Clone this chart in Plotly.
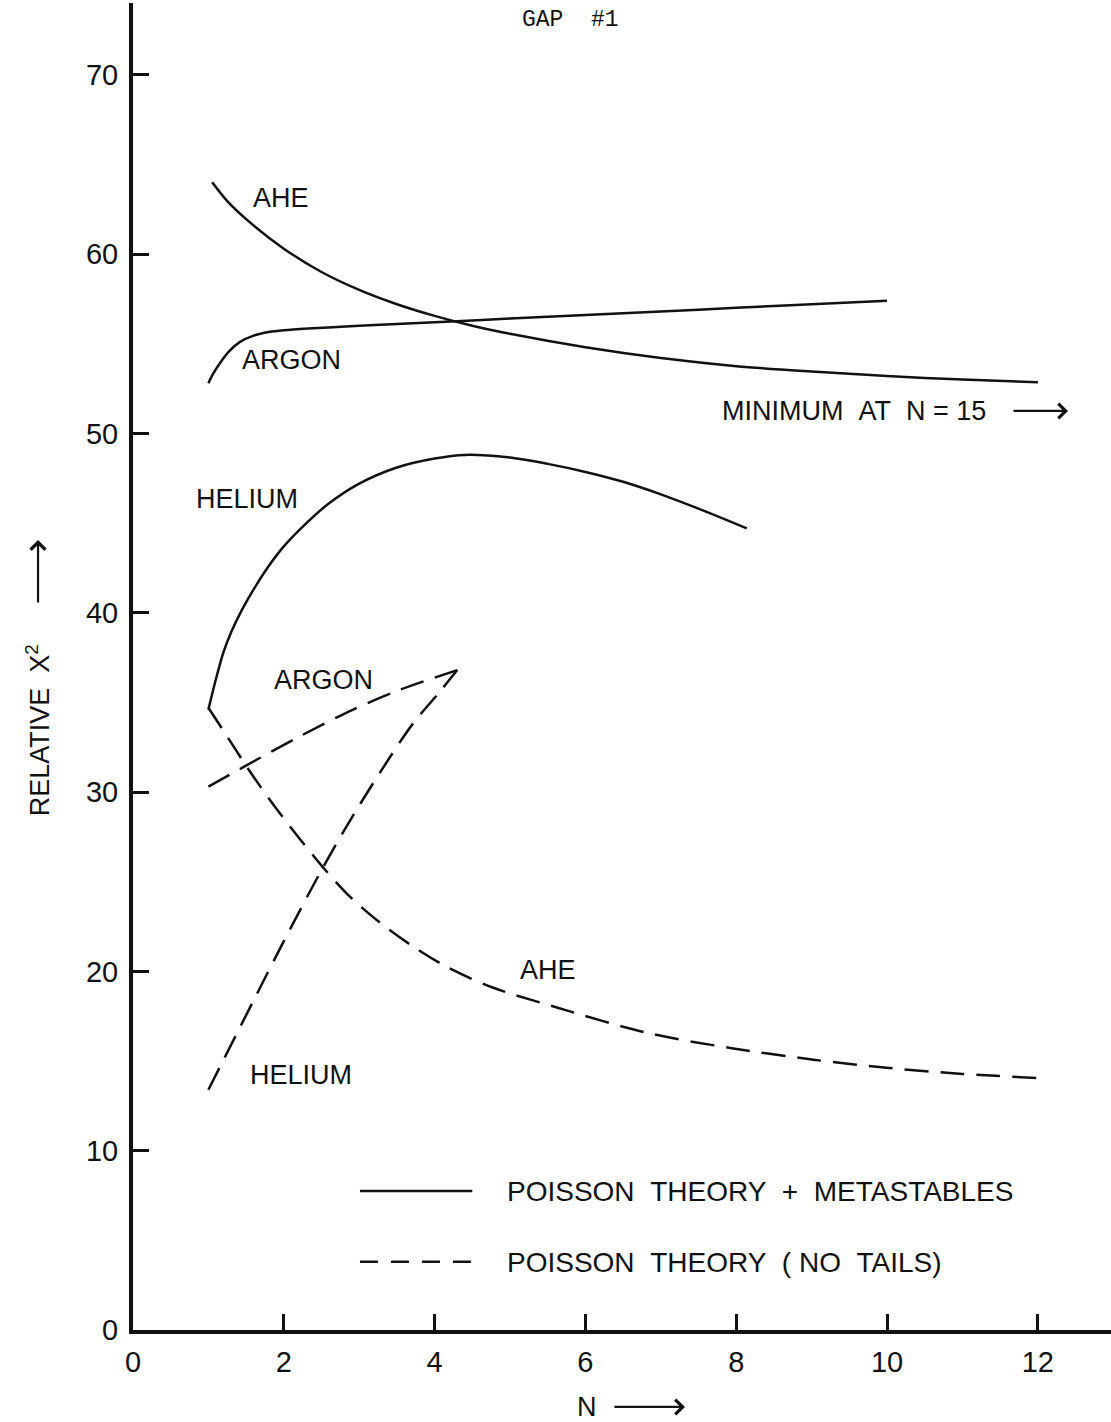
import plotly.graph_objects as go

# Poisson theory + metastables (solid curves)
ahe_solid_n = [1.05, 1.25, 1.5, 2, 2.5, 3, 3.5, 4, 4.5, 5, 6, 7, 8, 9, 10, 11, 12]
ahe_solid = [64.0, 62.95, 61.95, 60.3, 59.0, 58.0, 57.2, 56.55, 56.0, 55.55, 54.8, 54.2, 53.75, 53.45, 53.2, 53.0, 52.85]

argon_solid_n = [1.0, 1.06, 1.15, 1.28, 1.42, 1.6, 1.8, 2.0, 3, 4, 5, 6, 7, 8, 9, 10]
argon_solid = [52.8, 53.3, 53.9, 54.6, 55.1, 55.45, 55.65, 55.75, 56.0, 56.2, 56.4, 56.6, 56.8, 57.0, 57.2, 57.4]

helium_solid_n = [1.0, 1.1, 1.2, 1.3, 1.45, 1.6, 1.8, 2.0, 2.3, 2.6, 3.0, 3.5, 4.0, 4.4, 5.0, 5.5, 6.0, 6.5, 7.0, 7.5, 8.14]
helium_solid = [34.6, 36.3, 37.8, 38.9, 40.2, 41.3, 42.6, 43.7, 45.0, 46.1, 47.2, 48.1, 48.6, 48.8, 48.65, 48.3, 47.85, 47.3, 46.6, 45.8, 44.7]

# Poisson theory, no tails (dashed curves)
ahe_dash_n = [1.0, 1.31, 1.51, 1.86, 2.21, 2.52, 2.88, 3.28, 3.71, 4.16, 4.77, 5.53, 6.83, 7.92, 9.05, 10.03, 11.0, 12.0]
ahe_dash = [34.7, 32.7, 31.4, 29.3, 27.4, 25.8, 24.15, 22.7, 21.4, 20.25, 19.1, 18.1, 16.56, 15.73, 15.06, 14.61, 14.28, 14.05]

argon_dash_n = [1.0, 1.51, 2.21, 2.92, 3.54, 4.3]
argon_dash = [30.3, 31.5, 33.1, 34.6, 35.7, 36.8]

helium_dash_n = [1.0, 1.59, 1.99, 2.52, 2.92, 3.37, 3.71, 4.07, 4.3]
helium_dash = [13.4, 18.3, 21.6, 25.8, 28.7, 31.7, 33.8, 35.6, 36.8]

x_ticks = [0, 2, 4, 6, 8, 10, 12]
x_tick_text = ["0", "2", "4", "6", "8", "10", "12"]
y_ticks = [0, 10, 20, 30, 40, 50, 60, 70]
y_tick_text = ["0", "10", "20", "30", "40", "50", "60", "70"]

INK = "#111111"
FONT = "Liberation Sans"
DASH = "24px,12px"
NBSP = "\u00a0"

fig = go.Figure()

solid_curves = [(ahe_solid_n, ahe_solid), (argon_solid_n, argon_solid), (helium_solid_n, helium_solid)]
for xs, ys in solid_curves:
    fig.add_trace(go.Scatter(x=xs, y=ys, mode="lines",
                             line=dict(color=INK, width=2.5, shape="spline", smoothing=0.9),
                             showlegend=False, hoverinfo="skip"))

dashed_curves = [(ahe_dash_n, ahe_dash), (argon_dash_n, argon_dash), (helium_dash_n, helium_dash)]
for xs, ys in dashed_curves:
    fig.add_trace(go.Scatter(x=xs, y=ys, mode="lines",
                             line=dict(color=INK, width=2.5, dash=DASH, shape="spline", smoothing=0.9),
                             showlegend=False, hoverinfo="skip"))

label_font = dict(family=FONT, size=27, color=INK)
curve_labels = [
    ("AHE", 1.96, 63.1),
    ("ARGON", 2.10, 54.1),
    ("HELIUM", 1.51, 46.35),
    ("ARGON", 2.53, 36.25),
    ("AHE", 5.50, 20.1),
    ("HELIUM", 2.23, 14.2),
]
annotations = []
for text, xv, yv in curve_labels:
    annotations.append(dict(x=xv, y=yv, xref="x", yref="y", text=text, showarrow=False,
                            xanchor="center", yanchor="middle", font=label_font))

# note about the AHE minimum beyond the plotted range
annotations.append(dict(x=7.78, y=51.25, xref="x", yref="y",
                        text="MINIMUM" + NBSP * 2 + "AT" + NBSP * 2 + "N" + NBSP + "=" + NBSP + "15",
                        showarrow=False, xanchor="left", yanchor="middle", font=label_font))
annotations.append(dict(x=12.4, y=51.25, xref="x", yref="y", ax=-56, ay=0, text="",
                        showarrow=True, arrowhead=4, arrowsize=1.3, arrowwidth=2.2, arrowcolor=INK))

# legend rows
legend_font = dict(family=FONT, size=28, color=INK)
annotations.append(dict(x=4.93, y=7.7, xref="x", yref="y",
                        text="POISSON" + NBSP * 2 + "THEORY" + NBSP * 2 + "+" + NBSP * 2 + "METASTABLES",
                        showarrow=False, xanchor="left", yanchor="middle", font=legend_font))
annotations.append(dict(x=4.93, y=3.74, xref="x", yref="y",
                        text="POISSON" + NBSP * 2 + "THEORY" + NBSP * 2 + "(" + NBSP + "NO" + NBSP * 2 + "TAILS)",
                        showarrow=False, xanchor="left", yanchor="middle", font=legend_font))

# header
annotations.append(dict(x=5.8, y=0.987, xref="x", yref="paper", text="GAP" + NBSP * 2 + "#1",
                        showarrow=False, xanchor="center", yanchor="middle",
                        font=dict(family="Liberation Mono", size=23, color=INK)))

# axis titles with arrows
annotations.append(dict(x=-0.0971, y=0.452, xref="paper", yref="paper",
                        text="RELATIVE" + NBSP * 2 + "X<sup>2</sup>", textangle=-90,
                        showarrow=False, xanchor="center", yanchor="middle", font=label_font))
annotations.append(dict(x=-0.0971, y=0.5953, xref="paper", yref="paper", ax=0, ay=64, text="",
                        showarrow=True, arrowhead=4, arrowsize=1.3, arrowwidth=2.2, arrowcolor=INK))
annotations.append(dict(x=6.02, y=-0.058, xref="x", yref="paper", text="N",
                        showarrow=False, xanchor="center", yanchor="middle", font=label_font))
annotations.append(dict(x=7.32, y=-0.058, xref="x", yref="paper", ax=-72, ay=0, text="",
                        showarrow=True, arrowhead=4, arrowsize=1.3, arrowwidth=2.2, arrowcolor=INK))

shapes = [
    dict(type="line", xref="x", yref="y", x0=3.01, x1=4.5, y0=7.75, y1=7.75,
         line=dict(color=INK, width=2.5)),
    dict(type="line", xref="x", yref="y", x0=3.01, x1=4.5, y0=3.8, y1=3.8,
         line=dict(color=INK, width=2.5, dash="18px,13px")),
]

tick_font = dict(family=FONT, size=29, color=INK)
fig.update_layout(
    width=1111, height=1422,
    margin=dict(l=133, r=0, t=3, b=92),
    paper_bgcolor="white", plot_bgcolor="white",
    showlegend=False,
    annotations=annotations,
    shapes=shapes,
    xaxis=dict(range=[0, 12.97], tickvals=x_ticks, ticktext=x_tick_text,
               showgrid=False, zeroline=False, showline=True, linecolor=INK, linewidth=3.5,
               ticks="inside", ticklen=16, tickwidth=2.5, tickcolor=INK,
               tickfont=tick_font, ticklabelstandoff=3),
    yaxis=dict(range=[0, 74.0], tickvals=y_ticks, ticktext=y_tick_text,
               showgrid=False, zeroline=False, showline=True, linecolor=INK, linewidth=4,
               ticks="inside", ticklen=16, tickwidth=2.5, tickcolor=INK,
               tickfont=tick_font, ticklabelstandoff=5),
)

fig.write_html("out.html")
